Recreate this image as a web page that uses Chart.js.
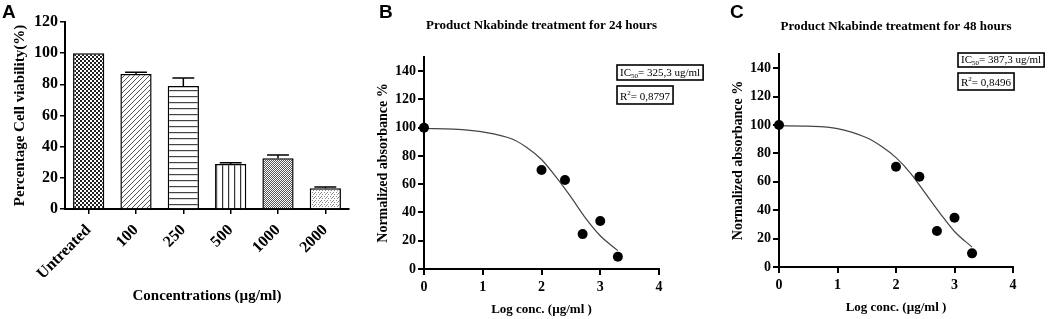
<!DOCTYPE html>
<html>
<head>
<meta charset="utf-8">
<script src="https://cdn.jsdelivr.net/npm/chart.js@4.4.1/dist/chart.umd.min.js"></script>
<style>
  html, body { margin: 0; padding: 0; background: #fff; }
  body { width: 1052px; height: 319px; position: relative; overflow: hidden; }
  canvas { position: absolute; top: 0; }
  #chartA { left: 0; }
  #chartB { left: 350px; }
  #chartC { left: 712px; }
</style>
</head>
<body>
<canvas id="chartA" width="355" height="319"></canvas>
<canvas id="chartB" width="360" height="319"></canvas>
<canvas id="chartC" width="340" height="319"></canvas>
<script>
// ---- panel A data
const concLabels = ['Untreated', '100', '250', '500', '1000', '2000'];
const viability = [100, 86.6, 79, 28.9, 32.5, 13.3];
const viabilityErr = [0, 1.1, 5, 0.8, 2.2, 0.8];
const viabilityTicks = [0, 20, 40, 60, 80, 100, 120];

// ---- panels B / C data
const logConc = [0, 2, 2.4, 2.7, 3, 3.3];
const absorb24 = [100, 70, 63, 24.7, 34, 8.7];
const absorb48 = [100, 70.6, 63.6, 25.3, 34.7, 9.6];
// fitted curve
const fitX24 = [0, 0.5, 1, 1.5, 1.75, 2, 2.25, 2.5, 2.75, 3, 3.3];
const fit24 = [99.4, 99, 97, 92, 86, 77.5, 65, 51, 36, 23.5, 13];
const fitX48 = [0, 0.5, 1, 1.5, 1.75, 2, 2.25, 2.5, 2.75, 3, 3.3];
const fit48 = [99.5, 99.2, 97.5, 91, 85, 77, 66, 52, 38, 25, 14];
const absTicks = [0, 20, 40, 60, 80, 100, 120, 140];
const logTicks = [0, 1, 2, 3, 4];

const SERIF = "'Liberation Serif', 'Times New Roman', serif";
const SANS = "'Liberation Sans', Arial, sans-serif";

// hatch patterns for the bars
function makePattern(ctxMain, kind) {
  const c = document.createElement('canvas');
  const g = c.getContext('2d');
  if (kind === 'checker') {
    c.width = 4; c.height = 4;
    g.fillStyle = '#fff'; g.fillRect(0, 0, 4, 4);
    g.fillStyle = '#222';
    g.fillRect(0, 0, 2, 2); g.fillRect(2, 2, 2, 2);
  } else if (kind === 'diag') {
    c.width = 5; c.height = 5;
    g.fillStyle = '#fff'; g.fillRect(0, 0, 5, 5);
    g.strokeStyle = '#555'; g.lineWidth = 1;
    g.beginPath();
    g.moveTo(0, 5); g.lineTo(5, 0);
    g.moveTo(-1, 1); g.lineTo(1, -1);
    g.moveTo(4, 6); g.lineTo(6, 4);
    g.stroke();
  } else if (kind === 'horiz') {
    c.width = 4; c.height = 6;
    g.fillStyle = '#fff'; g.fillRect(0, 0, 4, 6);
    g.fillStyle = '#444'; g.fillRect(0, 0, 4, 1.2);
  } else if (kind === 'vert') {
    c.width = 6; c.height = 4;
    g.fillStyle = '#fff'; g.fillRect(0, 0, 6, 4);
    g.fillStyle = '#333'; g.fillRect(0, 0, 1.2, 4);
  } else if (kind === 'dense') {
    c.width = 4; c.height = 4;
    g.fillStyle = '#fff'; g.fillRect(0, 0, 4, 4);
    g.fillStyle = '#555';
    [[3, 0], [2, 1], [1, 2], [0, 3], [1, 0], [0, 1], [3, 2], [2, 3]].forEach(p => g.fillRect(p[0], p[1], 1, 1));
  } else {
    c.width = 6; c.height = 4;
    g.fillStyle = '#fff'; g.fillRect(0, 0, 6, 4);
    g.fillStyle = '#888';
    [[0, 0], [3, 0], [1, 2], [4, 2], [2, 1]].forEach(p => g.fillRect(p[0], p[1], 1, 1));
  }
  return ctxMain.createPattern(c, 'repeat');
}

// panel letter, title and text boxes
const panelText = {
  id: 'panelText',
  afterDraw(chart, args, o) {
    const ctx = chart.ctx;
    const ca = chart.chartArea;
    ctx.save();
    ctx.fillStyle = '#000';
    ctx.font = 'bold 19px ' + SANS;
    ctx.textBaseline = 'alphabetic';
    ctx.textAlign = 'left';
    ctx.fillText(o.letter, o.letterX, 18);
    if (o.title) {
      ctx.font = 'bold 13px ' + SERIF;
      ctx.textAlign = 'center';
      ctx.textBaseline = 'middle';
      ctx.fillText(o.title, (ca.left + ca.right) / 2, o.titleY);
    }
    (o.boxes || []).forEach(b => {
      ctx.textAlign = 'left';
      ctx.textBaseline = 'alphabetic';
      let w = 0;
      b.parts.forEach(p => {
        ctx.font = p.size + 'px ' + SERIF;
        p.w = ctx.measureText(p.t).width;
        w += p.w;
      });
      ctx.lineWidth = 1.6;
      ctx.strokeStyle = '#000';
      ctx.strokeRect(b.x, b.y, w + 6, b.h);
      let x = b.x + 3;
      b.parts.forEach(p => {
        ctx.font = p.size + 'px ' + SERIF;
        ctx.fillText(p.t, x, b.y + b.h - 4 + (p.dy || 0));
        x += p.w;
      });
    });
    ctx.restore();
  }
};

// error bars on top of the bars
const errorBars = {
  id: 'errorBars',
  afterDatasetsDraw(chart) {
    const meta = chart.getDatasetMeta(0);
    const ys = chart.scales.y;
    const ctx = chart.ctx;
    ctx.save();
    ctx.strokeStyle = '#000';
    ctx.lineWidth = 1.5;
    meta.data.forEach((bar, i) => {
      const e = viabilityErr[i];
      if (!e) return;
      const top = ys.getPixelForValue(viability[i] + e);
      const half = bar.width * 0.35;
      ctx.beginPath();
      ctx.moveTo(bar.x, bar.y);
      ctx.lineTo(bar.x, top);
      ctx.moveTo(bar.x - half, top);
      ctx.lineTo(bar.x + half, top);
      ctx.stroke();
    });
    ctx.restore();
  }
};

// ---------- panel A
const ctxA = document.getElementById('chartA').getContext('2d');
const patterns = ['checker', 'diag', 'horiz', 'vert', 'dense', 'dots'].map(k => makePattern(ctxA, k));

new Chart(ctxA, {
  type: 'bar',
  data: {
    labels: concLabels,
    datasets: [{
      data: viability,
      backgroundColor: patterns,
      borderColor: '#000',
      borderWidth: 1.5,
      barPercentage: 0.66,
      categoryPercentage: 1
    }]
  },
  options: {
    responsive: false,
    animation: false,
    layout: { padding: { top: 22, right: 6, left: 0, bottom: 0 } },
    plugins: {
      legend: { display: false },
      tooltip: { enabled: false },
      panelText: { letter: 'A', letterX: 2 }
    },
    scales: {
      x: {
        afterFit: s => { s.height = 110; },
        border: { color: '#000', width: 2 },
        grid: { offset: false, drawOnChartArea: false, tickLength: 5, color: '#000', lineWidth: 1.5 },
        ticks: {
          color: '#000', autoSkip: false, minRotation: 45, maxRotation: 45, padding: 7,
          font: { family: SERIF, size: 16, weight: 'bold' }
        },
        title: {
          display: true, text: 'Concentrations (µg/ml)', color: '#000',
          font: { family: SERIF, size: 15, weight: 'bold' },
          padding: { top: 0, bottom: 14 }
        }
      },
      y: {
        min: 0, max: 120,
        afterBuildTicks: s => { s.ticks = viabilityTicks.map(v => ({ value: v })); },
        afterFit: s => { s.width = 65; },
        border: { color: '#000', width: 2 },
        grid: { drawOnChartArea: false, tickLength: 5, color: '#000', lineWidth: 1.5 },
        ticks: { color: '#000', padding: 2, font: { family: SERIF, size: 16, weight: 'bold' } },
        title: {
          display: true, text: 'Percentage Cell viability(%)', color: '#000',
          font: { family: SERIF, size: 15, weight: 'bold' },
          padding: { top: 11, bottom: 0 }
        }
      }
    }
  },
  plugins: [errorBars, panelText]
});

// ---------- panels B and C
function doseChart(id, cfg) {
  const ctx = document.getElementById(id).getContext('2d');
  return new Chart(ctx, {
    type: 'scatter',
    data: {
      datasets: [{
        data: logConc.map((x, i) => ({ x: x, y: cfg.points[i] })),
        pointRadius: 5,
        pointBackgroundColor: '#000',
        pointBorderColor: '#000',
        borderWidth: 0,
        clip: false
      }, {
        data: cfg.fitX.map((x, i) => ({ x: x, y: cfg.fit[i] })),
        showLine: true,
        pointRadius: 0,
        borderColor: '#444',
        borderWidth: 1.2,
        cubicInterpolationMode: 'monotone',
        clip: false
      }]
    },
    options: {
      responsive: false,
      animation: false,
      layout: { padding: { top: cfg.top, right: cfg.right, left: 0, bottom: 0 } },
      plugins: {
        legend: { display: false },
        tooltip: { enabled: false },
        panelText: cfg.text
      },
      scales: {
        x: {
          type: 'linear', min: 0, max: 4,
          afterBuildTicks: s => { s.ticks = logTicks.map(v => ({ value: v })); },
          afterFit: s => { s.height = cfg.xh; },
          border: { color: '#000', width: 2 },
          grid: { drawOnChartArea: false, tickLength: 6, color: '#000', lineWidth: 2 },
          ticks: { color: '#000', padding: 4, font: { family: SERIF, size: 14, weight: 'bold' } },
          title: {
            display: true, text: 'Log conc. (µg/ml )', color: '#000',
            font: { family: SERIF, size: 13, weight: 'bold' },
            padding: { top: 0, bottom: cfg.xtPad }
          }
        },
        y: {
          type: 'linear', min: 0, max: 150,
          afterBuildTicks: s => { s.ticks = absTicks.map(v => ({ value: v })); },
          afterFit: s => { s.width = cfg.yw; },
          border: { color: '#000', width: 2 },
          grid: { drawOnChartArea: false, tickLength: 6, color: '#000', lineWidth: 2 },
          ticks: { color: '#000', padding: 2, font: { family: SERIF, size: 14, weight: 'bold' } },
          title: {
            display: true, text: 'Normalized absorbance %', color: '#000',
            font: { family: SERIF, size: 14, weight: 'bold' },
            padding: { top: cfg.ytPad, bottom: 0 }
          }
        }
      }
    },
    plugins: [panelText]
  });
}

doseChart('chartB', {
  points: absorb24, fitX: fitX24, fit: fit24,
  top: 57, right: 51, xh: 50, yw: 74, xtPad: 2, ytPad: 25,
  text: {
    letter: 'B', letterX: 29, title: 'Product Nkabinde treatment for 24 hours', titleY: 25.5,
    boxes: [
      { x: 267, y: 65, h: 15, parts: [{ t: 'IC', size: 11 }, { t: '50', size: 7, dy: 2 }, { t: '= 325,3 ug/ml', size: 11 }] },
      { x: 267, y: 86, h: 18, parts: [{ t: 'R', size: 11 }, { t: '2', size: 7, dy: -5 }, { t: '= 0,8797', size: 11 }] }
    ]
  }
});

doseChart('chartC', {
  points: absorb48, fitX: fitX48, fit: fit48,
  top: 54, right: 39, xh: 52, yw: 67, xtPad: 4, ytPad: 18,
  text: {
    letter: 'C', letterX: 18, title: 'Product Nkabinde treatment for 48 hours', titleY: 26.5,
    boxes: [
      { x: 246, y: 53, h: 14, parts: [{ t: 'IC', size: 11 }, { t: '50', size: 7, dy: 2 }, { t: '= 387,3 ug/ml', size: 11 }] },
      { x: 246, y: 73, h: 17, parts: [{ t: 'R', size: 11 }, { t: '2', size: 7, dy: -5 }, { t: '= 0,8496', size: 11 }] }
    ]
  }
});
</script>
</body>
</html>
